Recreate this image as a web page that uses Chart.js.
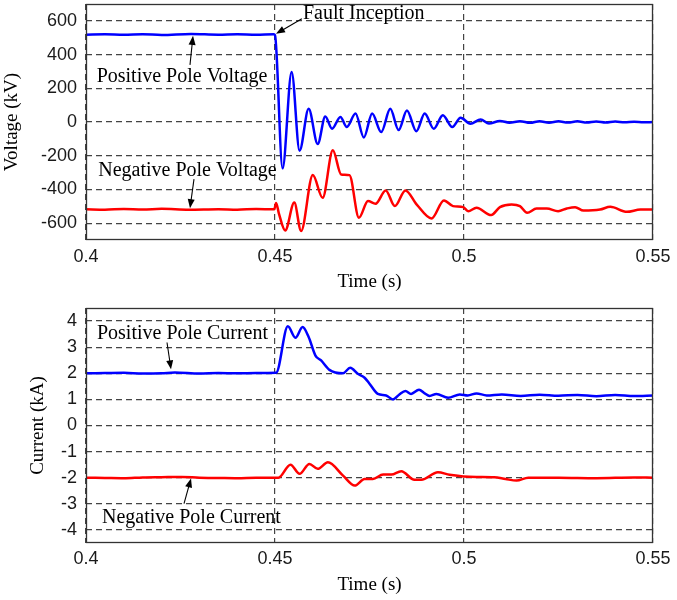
<!DOCTYPE html>
<html><head><meta charset="utf-8">
<script src="https://cdn.jsdelivr.net/npm/chart.js@4/dist/chart.umd.min.js"></script>
<style>
html,body{margin:0;padding:0;background:#fff;}
.wrap{position:absolute;left:0;width:677px;height:300px;}
</style></head><body>
<div class="wrap" style="top:0"><canvas id="c1" width="677" height="300"></canvas></div>
<div class="wrap" style="top:300px"><canvas id="c2" width="677" height="300"></canvas></div>
<script>
// ---- axis ticks ----
const timeTicks = [0.4, 0.45, 0.5, 0.55];
const timeTickLabels = ['0.4', '0.45', '0.5', '0.55'];
const voltageTicks = [-600, -400, -200, 0, 200, 400, 600];
const currentTicks = [-4, -3, -2, -1, 0, 1, 2, 3, 4];

// ---- positive pole voltage (kV) ----
const tVpos = [0.400,0.405,0.410,0.415,0.420,0.4278,0.435,0.440,0.445,0.4497,0.4500,0.4520,0.4544,0.4565,0.4589,0.4613,0.4633,0.4651,0.4673,0.4690,0.4713,0.4735,0.4757,0.4781,0.4805,0.4827,0.4849,0.4874,0.4896,0.4920,0.4944,0.4969,0.4991,0.5017,0.5044,0.5066,0.5095,0.5120,0.5148,0.5175,0.5200,0.5225,0.5250,0.5275,0.5300,0.5325,0.5350,0.5375,0.5400,0.5425,0.5450,0.5475,0.5500];
const vPos  = [518,520,517,521,516,522,518,521,518,520,515,-275,297,-170,78,-130,33,-40,30,-30,50,-92,50,-60,78,-48,68,-55,50,-40,40,-30,25,-10,15,-9,6,-4,5,-5,5,-4,4,-3,4,-3,3,-3,3,-2,2,-2,0];

// ---- negative pole voltage (kV) ----
const tVneg = [0.400,0.405,0.410,0.415,0.420,0.4272,0.435,0.440,0.445,0.4498,0.4503,0.4510,0.4527,0.4551,0.4569,0.4600,0.4626,0.4653,0.4675,0.4697,0.4722,0.4746,0.4766,0.4793,0.4817,0.4845,0.4875,0.4914,0.4947,0.4971,0.4998,0.5011,0.5033,0.5072,0.5095,0.5126,0.5148,0.5167,0.5192,0.5219,0.5249,0.5272,0.5294,0.5316,0.5360,0.5387,0.5431,0.5467,0.5500];
const vNeg  = [-518,-520,-516,-519,-515,-520,-517,-520,-516,-518,-480,-540,-643,-478,-647,-315,-450,-168,-311,-315,-568,-469,-485,-406,-499,-406,-490,-572,-465,-499,-505,-529,-509,-552,-505,-489,-499,-539,-513,-513,-529,-513,-505,-525,-519,-503,-533,-519,-519];

// ---- positive pole current (kA) ----
const tIpos = [0.400,0.405,0.410,0.415,0.420,0.4235,0.430,0.435,0.440,0.445,0.4503,0.4534,0.4554,0.4573,0.4589,0.4607,0.4622,0.4644,0.4680,0.4699,0.4719,0.4737,0.4750,0.4772,0.4794,0.4812,0.4829,0.4845,0.4860,0.4881,0.4896,0.4909,0.4927,0.4958,0.4989,0.5010,0.5033,0.5060,0.5100,0.5150,0.5200,0.5250,0.5300,0.5350,0.5400,0.5450,0.5500];
const iPos  = [2.00,2.01,2.02,1.99,2.00,2.03,1.99,2.01,2.00,2.01,2.02,3.80,3.36,3.77,3.39,2.68,2.49,2.13,2.00,2.21,1.98,1.83,1.60,1.21,1.15,1.00,1.19,1.32,1.21,1.37,1.23,1.13,1.21,1.06,1.19,1.15,1.23,1.15,1.19,1.13,1.18,1.14,1.17,1.12,1.17,1.13,1.15];

// ---- negative pole current (kA) ----
const tIneg = [0.400,0.405,0.410,0.415,0.420,0.4253,0.430,0.435,0.440,0.445,0.4509,0.4541,0.4565,0.4591,0.4613,0.4640,0.4680,0.4711,0.4737,0.4759,0.4786,0.4808,0.4834,0.4869,0.4887,0.4931,0.4962,0.4998,0.5033,0.5080,0.5110,0.5139,0.5170,0.5250,0.5350,0.5450,0.5500];
const iNeg  = [-2.00,-2.01,-2.02,-1.99,-1.98,-1.97,-2.00,-2.01,-2.02,-2.00,-2.00,-1.50,-1.85,-1.47,-1.66,-1.41,-1.92,-2.30,-2.05,-2.05,-1.88,-1.88,-1.75,-2.08,-2.08,-1.79,-1.89,-1.95,-1.97,-1.98,-2.05,-2.11,-2.00,-2.00,-2.02,-1.99,-2.00];

const toXY = (ts, vs) => ts.map((t, i) => ({x: t, y: vs[i]}));

const SANS = '"Liberation Sans", Arial, sans-serif';
const SERIF = '"Liberation Serif", "Times New Roman", serif';
const GRID = '#444444';

function drawArrow(ctx, x1, y1, x2, y2) {
  const ang = Math.atan2(y2 - y1, x2 - x1);
  const L = 9, W = 3.5;
  ctx.beginPath();
  ctx.moveTo(x1, y1);
  ctx.lineTo(x2 - Math.cos(ang) * L * 0.8, y2 - Math.sin(ang) * L * 0.8);
  ctx.stroke();
  ctx.beginPath();
  ctx.moveTo(x2, y2);
  ctx.lineTo(x2 - Math.cos(ang) * L - Math.sin(ang) * W, y2 - Math.sin(ang) * L + Math.cos(ang) * W);
  ctx.lineTo(x2 - Math.cos(ang) * L + Math.sin(ang) * W, y2 - Math.sin(ang) * L - Math.cos(ang) * W);
  ctx.closePath();
  ctx.fill();
}

const framePlugin = {
  id: 'frameNotes',
  afterDraw(chart, args, opts) {
    const {ctx, chartArea: a, scales: {x, y}} = chart;
    ctx.save();
    ctx.strokeStyle = '#333333';
    ctx.lineWidth = 1.3;
    const l = Math.round(a.left) + 0.5, t = Math.round(a.top) + 0.5;
    const r = Math.round(a.right) - 0.5, b = Math.round(a.bottom) - 0.5;
    ctx.strokeRect(l, t, r - l, b - t);
    ctx.fillStyle = '#000';
    ctx.strokeStyle = '#000';
    ctx.lineWidth = 1.1;
    ctx.font = '20px ' + SERIF;
    ctx.textBaseline = 'middle';
    (opts.notes || []).forEach(n => {
      ctx.textAlign = n.align;
      ctx.fillText(n.text, x.getPixelForValue(n.t), y.getPixelForValue(n.v));
      drawArrow(ctx, x.getPixelForValue(n.a[0]), y.getPixelForValue(n.a[1]),
                     x.getPixelForValue(n.a[2]), y.getPixelForValue(n.a[3]));
    });
    ctx.restore();
  }
};

function makeChart(id, cfg) {
  return new Chart(document.getElementById(id), {
    type: 'line',
    data: {datasets: [
      {data: cfg.pos, borderColor: '#0000ff', borderWidth: 2.5, pointRadius: 0, cubicInterpolationMode: 'monotone', fill: false},
      {data: cfg.neg, borderColor: '#ff0000', borderWidth: 2.5, pointRadius: 0, cubicInterpolationMode: 'monotone', fill: false}
    ]},
    options: {
      responsive: false, animation: false, devicePixelRatio: 1,
      layout: {padding: {left: 0, right: 24, top: cfg.top, bottom: 0}},
      plugins: {legend: {display: false}, tooltip: {enabled: false}, frameNotes: {notes: cfg.notes}},
      scales: {
        x: {
          type: 'linear', min: 0.4, max: 0.55,
          afterBuildTicks: s => { s.ticks = timeTicks.map(v => ({value: v})); },
          afterFit: s => { s.height = cfg.xh; s.paddingLeft = 0; s.paddingRight = 0; },
          ticks: {callback: (v, i) => timeTickLabels[i], font: {family: SANS, size: 18}, color: '#1a1a1a', padding: cfg.xpad, maxRotation: 0, autoSkip: false},
          grid: {color: GRID, lineWidth: 1.2, drawTicks: false},
          border: {display: false, dash: [6, 4]},
          title: {display: true, text: 'Time (s)', font: {family: SERIF, size: 19, lineHeight: 1}, color: '#000', padding: {top: 0, bottom: cfg.tpad}}
        },
        y: {
          type: 'linear', min: cfg.ymin, max: cfg.ymax,
          afterBuildTicks: s => { s.ticks = cfg.yticks.map(v => ({value: v})); },
          afterFit: s => { s.width = 86; s.paddingTop = 0; s.paddingBottom = 0; },
          ticks: {font: {family: SANS, size: 18}, color: '#1a1a1a', padding: 9, autoSkip: false},
          grid: {color: GRID, lineWidth: 1.2, drawTicks: false},
          border: {display: false, dash: [6, 4]},
          title: {display: true, text: cfg.ytitle, font: {family: SERIF, size: 19, lineHeight: 1}, color: '#000', padding: {top: cfg.ytpad, bottom: 0}}
        }
      }
    },
    plugins: [framePlugin]
  });
}

makeChart('c1', {
  pos: toXY(tVpos, vPos), neg: toXY(tVneg, vNeg),
  top: 4, xh: 60, xpad: 6, tpad: 8, ymin: -700, ymax: 700, yticks: voltageTicks,
  ytitle: 'Voltage (kV)', ytpad: 3,
  notes: [
    {text: 'Fault Inception', t: 0.4574, v: 641, align: 'left', a: [0.4571, 612, 0.45026, 523]},
    {text: 'Positive Pole Voltage', t: 0.4254, v: 267, align: 'center', a: [0.42751, 339, 0.42831, 511]},
    {text: 'Negative Pole Voltage', t: 0.42685, v: -291, align: 'center', a: [0.42857, -339, 0.42751, -511]}
  ]
});

makeChart('c2', {
  pos: toXY(tIpos, iPos), neg: toXY(tIneg, iNeg),
  top: 8, xh: 57, xpad: 5, tpad: 5, ymin: -4.5, ymax: 4.5, yticks: currentTicks,
  ytitle: 'Current (kA)', ytpad: 29,
  notes: [
    {text: 'Positive Pole Current', t: 0.42553, v: 3.53, align: 'center', a: [0.42143, 3.18, 0.42249, 2.15]},
    {text: 'Negative Pole Current', t: 0.4279, v: -3.53, align: 'center', a: [0.42593, -2.99, 0.42778, -2.03]}
  ]
});
</script>
</body></html>
